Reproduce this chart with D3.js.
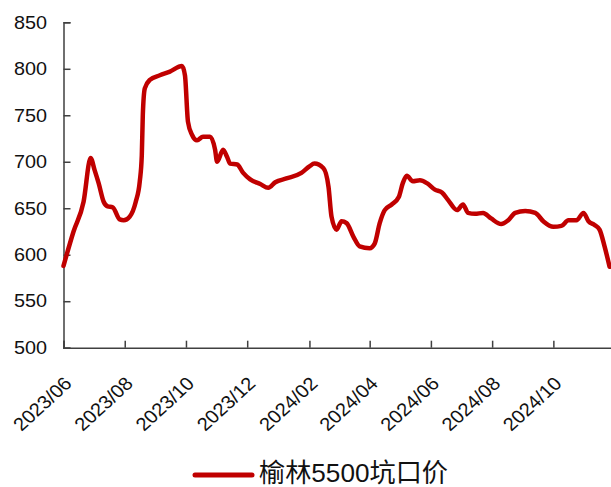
<!DOCTYPE html>
<html><head><meta charset="utf-8">
<script src="https://cdn.jsdelivr.net/npm/d3@7"></script>
<style>html,body{margin:0;padding:0;background:#fff;overflow:hidden}</style>
</head><body>
<svg id="c" width="611" height="487"></svg>
<script>
const dates = ["2023-06-01","2023-06-11","2023-06-21","2023-06-28","2023-07-02","2023-07-06","2023-07-11","2023-07-15","2023-07-20","2023-07-27","2023-07-31","2023-08-06","2023-08-12","2023-08-16","2023-08-18","2023-08-19","2023-08-21","2023-08-26","2023-09-05","2023-09-15","2023-09-27","2023-09-30","2023-10-03","2023-10-07","2023-10-12","2023-10-18","2023-10-25","2023-10-30","2023-11-01","2023-11-07","2023-11-11","2023-11-14","2023-11-21","2023-11-27","2023-12-04","2023-12-14","2023-12-22","2023-12-29","2024-01-09","2024-01-24","2024-02-01","2024-02-06","2024-02-15","2024-02-20","2024-02-23","2024-02-28","2024-03-04","2024-03-09","2024-03-16","2024-03-22","2024-04-01","2024-04-06","2024-04-11","2024-04-16","2024-04-23","2024-04-30","2024-05-04","2024-05-08","2024-05-14","2024-05-21","2024-05-28","2024-06-05","2024-06-12","2024-06-18","2024-06-27","2024-07-03","2024-07-08","2024-07-15","2024-07-23","2024-07-31","2024-08-10","2024-08-17","2024-08-24","2024-09-03","2024-09-13","2024-09-21","2024-10-01","2024-10-09","2024-10-16","2024-10-24","2024-10-31","2024-11-05","2024-11-11","2024-11-16","2024-11-21","2024-11-26"];
const prices = [588,625,657,704,691,677,657,652,651,638,637,641,657,679,707,750,779,788,793,797,803,793,743,729,723,727,727,713,700,713,705,698,697,688,681,676,672,678,682,688,695,698,693,673,641,627,636,634,619,609,607,612,634,648,654,662,677,685,679,680,677,670,667,659,648,654,645,644,645,639,633,637,645,647,645,636,630,631,637,637,645,636,632,627,609,587];
const yTicks = [500,550,600,650,700,750,800,850];
const xTickLabels = ["2023/06","2023/08","2023/10","2023/12","2024/02","2024/04","2024/06","2024/08","2024/10"];
const seriesName = "榆林5500坑口价";

const svg = d3.select("#c");
const parseDay = d3.timeParse("%Y-%m-%d");
const parseMonth = d3.timeParse("%Y/%m");
const data = dates.map((d,i)=>({date:parseDay(d), v:prices[i]}));

const x = d3.scaleTime().domain([parseMonth("2023/06"), parseMonth("2024/12")]).range([63.5, 614.6]);
const y = d3.scaleLinear().domain([500,850]).range([347.7, 22.3]);
const font = "'Liberation Sans', Arial, sans-serif";

// y axis
const ya = svg.append("g").attr("transform","translate(63.5,0)")
  .call(d3.axisLeft(y).tickValues(yTicks).tickSize(-7).tickPadding(15).tickFormat(d3.format("d")));
ya.select(".domain").attr("stroke","#404040").attr("stroke-width",1.5);
ya.selectAll(".tick line").attr("stroke","#404040").attr("stroke-width",1.5);
ya.selectAll("text").attr("font-family",font).attr("font-size","18px").attr("fill","#111")
  .attr("transform","scale(1.1,1)");

// x axis
const xa = svg.append("g").attr("transform","translate(0,347.7)")
  .call(d3.axisBottom(x).tickValues(xTickLabels.map(parseMonth)).tickSize(-7).tickFormat(d3.timeFormat("%Y/%m")));
xa.select(".domain").attr("stroke","#404040").attr("stroke-width",1.5);
xa.selectAll(".tick line").attr("stroke","#404040").attr("stroke-width",1.5);
xa.selectAll("text").attr("font-family",font).attr("font-size","18.5px").attr("fill","#111")
  .attr("text-anchor","end").attr("dy",null).attr("y",null)
  .attr("transform","translate(9,37) scale(1.09,1) rotate(-45)");

// line
const line = d3.line().x(d=>x(d.date)).y(d=>y(d.v)).curve(d3.curveMonotoneX);
svg.append("path").datum(data).attr("d",line).attr("fill","none")
  .attr("stroke","#C00000").attr("stroke-width",4.5).attr("stroke-linejoin","round").attr("stroke-linecap","round");

// legend
const lg = svg.append("g");
lg.append("line").attr("x1",195).attr("x2",252).attr("y1",475).attr("y2",475)
  .attr("stroke","#C00000").attr("stroke-width",5).attr("stroke-linecap","round");
lg.append("text").attr("x",259).attr("y",482).text(seriesName)
  .attr("textLength",189).attr("lengthAdjust","spacingAndGlyphs")
  .attr("font-family","'Liberation Sans', 'Noto Sans CJK SC', sans-serif").attr("font-size","26px").attr("fill","#111");
</script>
</body></html>
